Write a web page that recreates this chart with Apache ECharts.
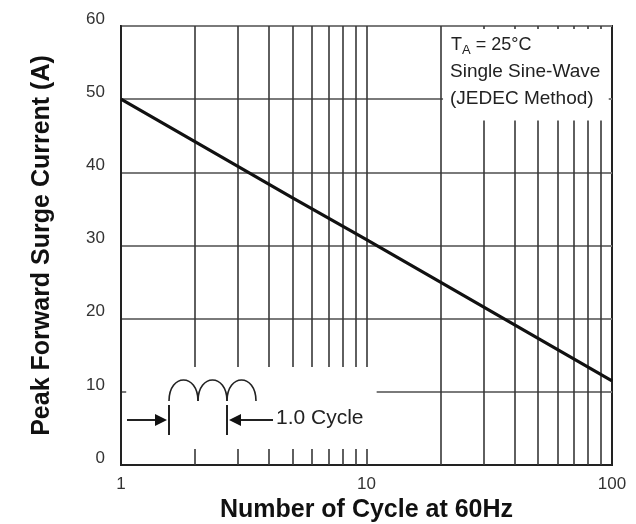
<!DOCTYPE html>
<html>
<head>
<meta charset="utf-8">
<script src="https://cdn.jsdelivr.net/npm/echarts@6/dist/echarts.min.js"></script>
<style>
html,body{margin:0;padding:0;background:#fff;}
#chart{width:636px;height:524px;}
</style>
</head>
<body>
<div id="chart"></div>
<script>
// ---- data ----
const cycles = [1, 2, 5, 10, 20, 50, 100];
const current = [50, 44.2, 36.5, 30.8, 25, 17.3, 11.5];
const verticalGrid = [2, 3, 4, 5, 6, 7, 8, 9, 10, 20, 30, 40, 50, 60, 70, 80, 90];
const xTickLabels = [1, 10, 100];
const yTicks = [0, 10, 20, 30, 40, 50, 60];
const xTitle = 'Number of Cycle at 60Hz';
const yTitle = 'Peak Forward Surge Current (A)';
const noteLines = ['Single Sine-Wave', '(JEDEC Method)'];

const chart = echarts.init(document.getElementById('chart'));
const fontTxt = 'Liberation Sans, Arial, sans-serif';

const option = {
  animation: false,
  backgroundColor: '#fff',
  grid: {
    left: 121, right: 24, top: 26, bottom: 59,
    containLabel: false, outerBoundsMode: 'none',
    show: true, borderColor: '#222', borderWidth: 2, backgroundColor: 'transparent'
  },
  xAxis: {
    type: 'log', logBase: 10, min: 1, max: 100,
    axisLine: { show: true, lineStyle: { color: '#222', width: 2 } },
    axisTick: { show: false },
    splitLine: { show: false },
    axisLabel: {
      color: '#333', fontFamily: fontTxt, fontSize: 17, margin: 11,
      formatter: v => (xTickLabels.indexOf(Math.round(v)) >= 0 ? String(Math.round(v)) : '')
    },
    name: xTitle, nameLocation: 'middle', nameGap: 32,
    nameTextStyle: { color: '#111', fontFamily: fontTxt, fontWeight: 'bold', fontSize: 25 }
  },
  yAxis: {
    type: 'value', min: 0, max: 60, interval: 10,
    axisLine: { show: true, lineStyle: { color: '#222', width: 2 } },
    axisTick: { show: false },
    splitLine: { show: true, lineStyle: { color: '#7a7a7a', width: 2.2 } },
    axisLabel: {
      color: '#333', fontFamily: fontTxt, fontSize: 17, margin: 16,
      verticalAlign: 'bottom', lineHeight: 14,
      formatter: v => (yTicks.indexOf(v) >= 0 ? String(v) : '')
    },
    name: yTitle, nameLocation: 'middle', nameGap: 66, nameRotate: 90,
    nameTextStyle: { color: '#111', fontFamily: fontTxt, fontWeight: 'bold', fontSize: 25 }
  },
  series: [
    {
      name: 'vgrid', type: 'line', data: [], z: 1, silent: true,
      markLine: {
        silent: true, symbol: 'none', animation: false, z: 2,
        label: { show: false },
        lineStyle: { color: '#383838', width: 1.6, type: 'solid' },
        data: verticalGrid.map(v => ({ xAxis: v }))
      }
    },
    {
      name: 'masks', type: 'line', data: [], z: 3, silent: true,
      markArea: {
        silent: true, animation: false, z: 4,
        itemStyle: { color: '#fff', opacity: 1 },
        data: [
          [{ xAxis: 20.5, yAxis: 47.1 }, { xAxis: 97, yAxis: 59.6 }],
          [{ xAxis: 1.05, yAxis: 2.2 }, { xAxis: 11, yAxis: 13.4 }]
        ]
      }
    },
    {
      name: 'surge', type: 'line', z: 10,
      data: cycles.map((c, i) => [c, current[i]]),
      showSymbol: false, symbol: 'none',
      lineStyle: { color: '#111', width: 3.2 }
    }
  ],
  graphic: [
    {
      type: 'text', left: 451, top: 36, z: 20,
      style: {
        text: '{t|T}{s|A}{t| = 25°C}',
        rich: {
          t: { fontFamily: fontTxt, fontSize: 18, fill: '#222', lineHeight: 20 },
          s: { fontFamily: fontTxt, fontSize: 13, fill: '#222', padding: [10, 0, 0, 0] }
        }
      }
    },
    {
      type: 'text', left: 450, top: 62, z: 20,
      style: { text: noteLines[0], fontFamily: fontTxt, fontSize: 19, fill: '#222' }
    },
    {
      type: 'text', left: 450, top: 89, z: 20,
      style: { text: noteLines[1], fontFamily: fontTxt, fontSize: 19, fill: '#222' }
    },
    // humps
    { type: 'bezierCurve', z: 20, shape: { x1: 169, y1: 401, x2: 198, y2: 401, cpx1: 169, cpy1: 373, cpx2: 198, cpy2: 373 }, style: { stroke: '#222', lineWidth: 1.6, fill: null } },
    { type: 'bezierCurve', z: 20, shape: { x1: 198, y1: 401, x2: 227, y2: 401, cpx1: 198, cpy1: 373, cpx2: 227, cpy2: 373 }, style: { stroke: '#222', lineWidth: 1.6, fill: null } },
    { type: 'bezierCurve', z: 20, shape: { x1: 227, y1: 401, x2: 256, y2: 401, cpx1: 227, cpy1: 373, cpx2: 256, cpy2: 373 }, style: { stroke: '#222', lineWidth: 1.6, fill: null } },
    // bars
    { type: 'line', z: 20, shape: { x1: 169, y1: 405, x2: 169, y2: 435 }, style: { stroke: '#222', lineWidth: 2 } },
    { type: 'line', z: 20, shape: { x1: 227, y1: 405, x2: 227, y2: 435 }, style: { stroke: '#222', lineWidth: 2 } },
    // arrows
    { type: 'line', z: 20, shape: { x1: 127, y1: 420, x2: 160, y2: 420 }, style: { stroke: '#222', lineWidth: 2 } },
    { type: 'polygon', z: 20, shape: { points: [[155, 414], [167, 420], [155, 426]] }, style: { fill: '#111' } },
    { type: 'line', z: 20, shape: { x1: 238, y1: 420, x2: 273, y2: 420 }, style: { stroke: '#222', lineWidth: 2 } },
    { type: 'polygon', z: 20, shape: { points: [[229, 420], [241, 414], [241, 426]] }, style: { fill: '#111' } },
    {
      type: 'text', left: 276, top: 408, z: 20,
      style: { text: '1.0 Cycle', fontFamily: fontTxt, fontSize: 21, fill: '#222' }
    }
  ]
};
chart.setOption(option);
</script>
</body>
</html>
